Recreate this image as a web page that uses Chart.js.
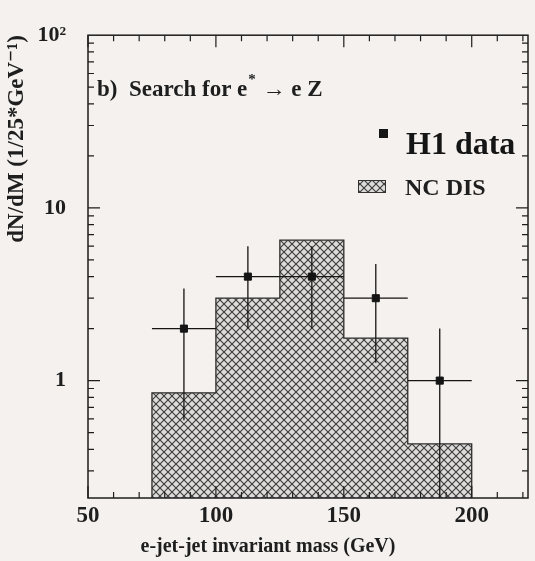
<!DOCTYPE html>
<html><head><meta charset="utf-8">
<script src="https://cdn.jsdelivr.net/npm/chart.js@4"></script>
<style>html,body{margin:0;padding:0;background:#f4f1ee;} #wrap{width:535px;height:561px;}</style>
</head><body><div id="wrap"><canvas id="c" width="535" height="561"></canvas></div>
<script>
// ---- data ----
const binEdges = [75, 100, 125, 150, 175, 200];          // GeV
const ncDisValues = [0.85, 3.0, 6.5, 1.76, 0.43];        // NC DIS expectation per bin
const dataMass = [87.5, 112.5, 137.5, 162.5, 187.5];     // bin centres
const dataCounts = [2, 4, 4, 3, 1];                      // H1 data
const dataErrDown = [1.41, 2.0, 2.0, 1.73, 1.0];
const dataErrUp = [1.41, 2.0, 2.0, 1.73, 1.0];
const xTickValues = [50, 100, 150, 200];
const yTickValues = [1, 10, 100];
const yTickLabels = ['1', '10', '10²'];
const X_MIN = 50, X_MAX = 222, Y_MIN = 0.209, Y_MAX = 100;

const FONT = "'Liberation Serif', 'DejaVu Serif', serif";
const INK = '#1e1e1e';

function makeHatch() {
  const c = document.createElement('canvas'); c.width = 8; c.height = 8;
  const g = c.getContext('2d');
  g.fillStyle = '#dedbd9'; g.fillRect(0, 0, 8, 8);
  g.strokeStyle = '#3a3a3a'; g.lineWidth = 1.1;
  g.beginPath();
  g.moveTo(-1, -1); g.lineTo(9, 9);
  g.moveTo(9, -1); g.lineTo(-1, 9);
  g.stroke();
  return g.createPattern(c, 'repeat');
}
const hatch = makeHatch();

// histogram outline built from bin edges / values
const histPoints = [{x: binEdges[0], y: Y_MIN}];
ncDisValues.forEach((v, i) => histPoints.push({x: binEdges[i], y: v}));
histPoints.push({x: binEdges[binEdges.length - 1], y: ncDisValues[ncDisValues.length - 1]});
histPoints.push({x: binEdges[binEdges.length - 1], y: Y_MIN});

const bgPlugin = {
  id: 'bg',
  beforeDraw(chart) {
    const ctx = chart.ctx; ctx.save();
    ctx.fillStyle = '#f4f1ee'; ctx.fillRect(0, 0, chart.width, chart.height);
    ctx.restore();
  }
};

const errorBars = {
  id: 'errorBars',
  afterDatasetsDraw(chart) {
    const {ctx, scales: {x, y}, chartArea} = chart;
    ctx.save(); ctx.strokeStyle = '#151515'; ctx.lineWidth = 1.3;
    dataMass.forEach((m, i) => {
      const px = x.getPixelForValue(m), py = y.getPixelForValue(dataCounts[i]);
      const lo = dataCounts[i] - dataErrDown[i];
      const pyLo = lo > Y_MIN ? y.getPixelForValue(lo) : chartArea.bottom;
      const pyHi = y.getPixelForValue(dataCounts[i] + dataErrUp[i]);
      ctx.beginPath();
      ctx.moveTo(px, pyLo); ctx.lineTo(px, pyHi);
      ctx.moveTo(x.getPixelForValue(binEdges[i]), py); ctx.lineTo(x.getPixelForValue(binEdges[i + 1]), py);
      ctx.stroke();
    });
    ctx.restore();
  }
};

const frameTicks = {
  id: 'frameTicks',
  afterDraw(chart) {
    const {ctx, scales: {x, y}, chartArea: a} = chart;
    ctx.save(); ctx.strokeStyle = INK; ctx.lineWidth = 1.5;
    ctx.strokeRect(a.left, a.top, a.right - a.left, a.bottom - a.top);
    ctx.lineWidth = 1.2; ctx.beginPath();
    for (let v = X_MIN; v <= X_MAX; v += 10) {
      const px = x.getPixelForValue(v);
      const len = (v % 50 === 0) ? 12 : 6;
      ctx.moveTo(px, a.bottom); ctx.lineTo(px, a.bottom - len);
      ctx.moveTo(px, a.top); ctx.lineTo(px, a.top + len);
    }
    [0.1, 1, 10].forEach(d => {
      for (let k = 1; k <= 9; k++) {
        const v = k * d; if (v < Y_MIN || v > Y_MAX) continue;
        const py = y.getPixelForValue(v); const len = k === 1 ? 12 : 6;
        ctx.moveTo(a.left, py); ctx.lineTo(a.left + len, py);
        ctx.moveTo(a.right, py); ctx.lineTo(a.right - len, py);
      }
    });
    ctx.stroke();
    ctx.restore();
  }
};

const textPlugin = {
  id: 'texts',
  afterDraw(chart) {
    const {ctx, chartArea: a} = chart;
    ctx.save(); ctx.fillStyle = INK; ctx.textBaseline = 'alphabetic'; ctx.textAlign = 'left';
    // panel annotation
    ctx.font = 'bold 23px ' + FONT;
    let tx = a.left + 9, ty = a.top + 61;
    const p1 = 'b)  Search for e';
    ctx.fillText(p1, tx, ty); tx += ctx.measureText(p1).width;
    ctx.font = 'bold 15px ' + FONT; ctx.fillText('*', tx + 1, ty - 12); tx += ctx.measureText('*').width + 2;
    ctx.font = 'bold 23px ' + FONT; ctx.fillText(' → e Z', tx, ty);
    // legend
    ctx.fillStyle = '#151515';
    ctx.fillRect(379, 129, 9, 9);
    ctx.font = 'bold 32px ' + FONT; ctx.fillText('H1 data', 406, 154);
    ctx.fillStyle = hatch; ctx.fillRect(358, 180, 27, 12);
    ctx.strokeStyle = '#333'; ctx.lineWidth = 1; ctx.strokeRect(358.5, 180.5, 27, 12);
    ctx.fillStyle = INK; ctx.font = 'bold 24px ' + FONT; ctx.fillText('NC DIS', 405, 195);
    ctx.restore();
  }
};

new Chart(document.getElementById('c'), {
  data: {
    datasets: [
      {
        type: 'line', label: 'NC DIS', data: histPoints, stepped: 'before',
        borderColor: '#2a2a2a', borderWidth: 1.3, backgroundColor: hatch,
        fill: 'start', pointRadius: 0, order: 2
      },
      {
        type: 'scatter', label: 'H1 data',
        data: dataMass.map((m, i) => ({x: m, y: dataCounts[i]})),
        pointStyle: 'rect', pointRadius: 5, backgroundColor: '#151515', borderColor: '#151515', order: 1
      }
    ]
  },
  options: {
    responsive: false, animation: false, devicePixelRatio: 1,
    layout: {padding: {top: 31, right: 7, left: 0, bottom: 0}},
    plugins: {legend: {display: false}, tooltip: {enabled: false}},
    scales: {
      x: {
        type: 'linear', min: X_MIN, max: X_MAX,
        afterBuildTicks: s => { s.ticks = xTickValues.map(v => ({value: v})); },
        afterFit: s => { s.height = 63; },
        grid: {display: false, drawTicks: false}, border: {display: false},
        ticks: {color: INK, padding: 4, maxRotation: 0, font: {family: FONT, size: 23, weight: 'bold'}},
        title: {display: true, text: 'e-jet-jet invariant mass (GeV)\u2003\u2003\u2003\u2003', color: INK,
                padding: {top: 0, bottom: 2}, font: {family: FONT, size: 20, weight: 'bold'}}
      },
      y: {
        type: 'logarithmic', min: Y_MIN, max: Y_MAX,
        afterBuildTicks: s => { s.ticks = yTickValues.map(v => ({value: v})); },
        afterFit: s => { s.width = 88; },
        grid: {display: false, drawTicks: false}, border: {display: false},
        ticks: {color: INK, padding: 22, font: {family: FONT, size: 22, weight: 'bold'},
                callback: (v) => yTickLabels[yTickValues.indexOf(v)] ?? ''},
        title: {display: true, align: 'end', text: 'dN/dM (1/25*GeV⁻¹)', color: INK,
                padding: {top: 3, bottom: 0}, font: {family: FONT, size: 23, weight: 'bold'}}
      }
    }
  },
  plugins: [bgPlugin, errorBars, frameTicks, textPlugin]
});
</script></body></html>
